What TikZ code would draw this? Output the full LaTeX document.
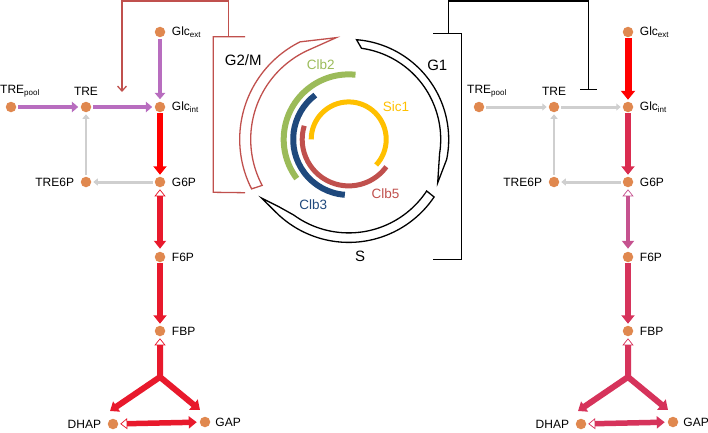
\documentclass[tikz,border=0pt]{standalone}
\usepackage{fontspec}
\setmainfont{Liberation Sans}
\usepackage{tikz}
\usetikzlibrary{arrows.meta}
\usetikzlibrary{calc}

\definecolor{metorange}{HTML}{E0884F}
\definecolor{fluxpurple}{HTML}{B86DBF}
\definecolor{fluxred}{HTML}{FF0000}
\definecolor{fluxcrimson}{HTML}{E8192C}
\definecolor{fluxgray}{HTML}{CFCFCF}
\definecolor{fluxrose}{HTML}{D6335B}
\definecolor{fluxrosedark}{HTML}{DA2C50}
\definecolor{fluxpink}{HTML}{C5528F}
\definecolor{clbgreen}{HTML}{9BBB59}
\definecolor{clbblue}{HTML}{1F497D}
\definecolor{clbred}{HTML}{C0504D}
\definecolor{sicyellow}{HTML}{FFC000}

\tikzset{
  met/.style={circle,fill=metorange,inner sep=0pt,minimum size=10.5pt,outer sep=0pt},
  lbl/.style={font=\fontsize{12}{14}\selectfont,inner sep=1pt,label distance=5.5pt},
  thin flux/.style={draw=fluxgray,line width=3pt,-{Triangle[width=7pt,length=4.5pt]},shorten >=2pt,shorten <=2pt},
  mid flux/.style={line width=4.8pt,-{Triangle[width=10.5pt,length=6.5pt]},shorten >=2.5pt,shorten <=2pt},
  big flux/.style={line width=6.5pt,-{Triangle[width=13pt,length=8.5pt]},shorten >=2pt,shorten <=1pt},
  rev flux/.style={line width=6pt,line join=miter,{Triangle[open,fill=white,line width=0.7pt,width=11pt,length=7pt]}-{Triangle[width=12pt,length=8pt]},shorten >=3pt,shorten <=2pt},
  phase/.style={line width=1.3pt,line join=miter},
  phaselbl/.style={font=\fontsize{15}{17}\selectfont},
  clblbl/.style={font=\fontsize{13.5}{15}\selectfont}
}

\begin{document}
\begin{tikzpicture}[x=1pt,y=1pt]
\useasboundingbox (0,0) rectangle (708,432);

% cell cycle
\coordinate (cyc) at (348.7,292.6);
\begin{scope}[shift={(cyc)}]
\draw[phase] (85.5:100) arc[start angle=85.5,end angle=-11.5,radius=100] -- (-26:99) -- (-9:92) arc[start angle=-9,end angle=82,radius=92] -- cycle;
\draw[phase] (-34:103) arc[start angle=-34,end angle=-135,radius=103] -- (-146:105) -- (-136:97) -- (-126:93.5) arc[start angle=-126,end angle=-33.5,radius=93.5] -- cycle;
\draw[phase,clbred] (207:109) arc[start angle=207,end angle=116.5,radius=109] -- (97:102.5) -- (113:98) arc[start angle=113,end angle=208,radius=98] -- cycle;
\draw[clbgreen,line width=6pt] (84:65) arc[start angle=84,end angle=217,radius=65];
\draw[clbblue,line width=6pt] (127:55.5) arc[start angle=127,end angle=266,radius=55.5];
\draw[clbred,line width=5pt] (163:46.5) arc[start angle=163,end angle=324,radius=46.5];
\draw[sicyellow,line width=5pt] (180:37.5) arc[start angle=180,end angle=-43,radius=37.5];
\end{scope}
\node[phaselbl] (g2m) at (243.3,372) {G2/M};
\node[phaselbl] (g1) at (437.3,367) {G1};
\node[phaselbl] (s) at (360,175.3) {S};
\node[clblbl,text=clbgreen] (clb2) at (320.7,367) {Clb2};
\node[clblbl,text=sicyellow] (sic1) at (396,325.3) {Sic1};
\node[clblbl,text=clbred] (clb5) at (385.5,238.7) {Clb5};
\node[clblbl,text=clbblue] (clb3) at (313.3,227) {Clb3};

% left pathway
\node[met,label={[lbl]right:Glc\textsubscript{ext}}] (lGlcext) at (160,400) {};
\node[met,label={[lbl,label distance=3.5pt,xshift=9pt]above:TRE\textsubscript{pool}}] (lTREpool) at (11,325) {};
\node[met,label={[lbl]above:TRE}] (lTRE) at (86,325) {};
\node[met,label={[lbl]right:Glc\textsubscript{int}}] (lGlcint) at (160,325) {};
\node[met,label={[lbl]left:TRE6P}] (lTRE6P) at (86,250) {};
\node[met,label={[lbl]right:G6P}] (lG6P) at (160,250) {};
\node[met,label={[lbl]right:F6P}] (lF6P) at (160,175) {};
\node[met,label={[lbl]right:FBP}] (lFBP) at (160,101) {};
\node[met,label={[lbl]left:DHAP}] (lDHAP) at (113,8) {};
\node[met,label={[lbl,label distance=4pt]right:GAP}] (lGAP) at (205,10) {};
\coordinate (lbr) at (160,55);
\coordinate (ldh) at (110,21);
\coordinate (lga) at (200,22);

\draw[mid flux,fluxpurple] (lTREpool) -- (lTRE);
\draw[mid flux,fluxpurple] (lTRE) -- (lGlcint);
\draw[mid flux,fluxpurple] (lGlcext) -- (lGlcint);
\draw[big flux,fluxred] (lGlcint) -- (lG6P);
\draw[thin flux] (lG6P) -- (lTRE6P);
\draw[thin flux,line width=2.2pt] (lTRE6P) -- (lTRE);
\draw[rev flux,fluxcrimson] (lG6P) -- (lF6P);
\draw[big flux,fluxcrimson,line width=6pt] (lF6P) -- (lFBP);
\draw[rev flux,fluxcrimson,shorten >=0pt] (lFBP) -- (lbr) -- (ldh);
\draw[big flux,fluxcrimson,line width=6pt,shorten <=0pt,shorten >=0pt] (lbr) -- (lga);
\draw[rev flux,fluxcrimson,line width=5.5pt] (lDHAP) -- (lGAP);

% right pathway
\node[met,label={[lbl]right:Glc\textsubscript{ext}}] (rGlcext) at (628,400) {};
\node[met,label={[lbl,label distance=3.5pt,xshift=8pt]above:TRE\textsubscript{pool}}] (rTREpool) at (479,325) {};
\node[met,label={[lbl]above:TRE}] (rTRE) at (554,325) {};
\node[met,label={[lbl]right:Glc\textsubscript{int}}] (rGlcint) at (628,325) {};
\node[met,label={[lbl]left:TRE6P}] (rTRE6P) at (554,250) {};
\node[met,label={[lbl]right:G6P}] (rG6P) at (628,250) {};
\node[met,label={[lbl]right:F6P}] (rF6P) at (628,175) {};
\node[met,label={[lbl]right:FBP}] (rFBP) at (628,101) {};
\node[met,label={[lbl]left:DHAP}] (rDHAP) at (581,8) {};
\node[met,label={[lbl,label distance=4pt]right:GAP}] (rGAP) at (673,10) {};
\coordinate (rbr) at (628,55);
\coordinate (rdh) at (578,21);
\coordinate (rga) at (668,22);

\draw[thin flux] (rTREpool) -- (rTRE);
\draw[thin flux] (rTRE) -- (rGlcint);
\draw[big flux,fluxred,line width=7pt,-{Triangle[width=14pt,length=9pt]}] (rGlcext) -- (rGlcint);
\draw[big flux,fluxrosedark,line width=6pt] (rGlcint) -- (rG6P);
\draw[thin flux] (rG6P) -- (rTRE6P);
\draw[thin flux,line width=2.4pt] (rTRE6P) -- (rTRE);
\draw[rev flux,fluxpink,line width=4.8pt] (rG6P) -- (rF6P);
\draw[big flux,fluxrose,line width=6pt] (rF6P) -- (rFBP);
\draw[rev flux,fluxrose,shorten >=0pt] (rFBP) -- (rbr) -- (rdh);
\draw[big flux,fluxrose,line width=6pt,shorten <=0pt,shorten >=0pt] (rbr) -- (rga);
\draw[rev flux,fluxrose,line width=5.5pt] (rDHAP) -- (rGAP);

% G2/M activates trehalose uptake, G1 inhibits it
\coordinate (gmtop) at (228.3,395.3);
\coordinate (lfb) at (122,340);
\draw[clbred,line width=1.3pt] (245,395.3) -- (213.3,395.3) -- (213.3,239.7) -- (245,239.3);
\draw[clbred,line width=1.3pt,-{Straight Barb[width=9pt,length=5pt]}] (gmtop) -- ++(0,35.7) -| (lfb);
\coordinate (g1top) at (448.3,398.3);
\coordinate (rinh) at (588.3,342);
\draw[line width=1.3pt] (433.3,398.3) -- (461.7,398.3) -- (461.7,172.5) -- (433.3,172.5);
\draw[line width=1.3pt,-{Bar[width=17pt,line width=1.3pt]}] (g1top) -- ++(0,32.7) -| (rinh);
\end{tikzpicture}
\end{document}
